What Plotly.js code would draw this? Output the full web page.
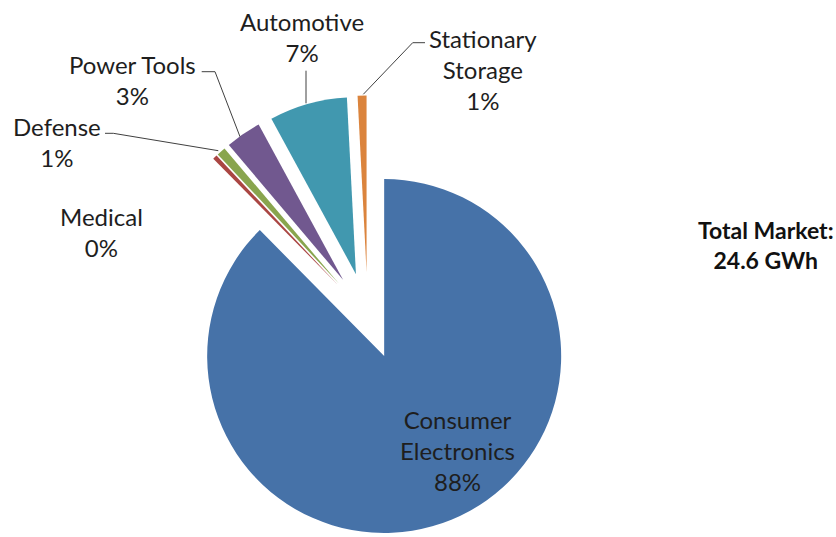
<!DOCTYPE html>
<html>
<head>
<meta charset="utf-8">
<script src="https://cdn.plot.ly/plotly-3.0.1.min.js"></script>
<style>html,body{margin:0;padding:0;background:#fff;overflow:hidden}#chart{width:836px;height:537px}</style>
</head>
<body>
<div id="chart"></div>
<script>
// ---- data ----
var categories = ['Consumer Electronics', 'Medical', 'Defense', 'Power Tools', 'Automotive', 'Stationary Storage'];
var values = [21.55, 0.1, 0.2, 0.8, 1.75, 0.2]; // GWh
var colors = ['#4672A8', '#AA4643', '#89A54E', '#71588F', '#4198AF', '#DB843D'];
var labelLines = ['Consumer<br>Electronics', 'Medical', 'Defense', 'Power Tools', 'Automotive', 'Stationary<br>Storage'];

// ---- layout helpers ----
var W = 836, H = 537;
function px(x) { return x / W; }
function py(y) { return 1 - y / H; }

var total = values.reduce(function (a, b) { return a + b; }, 0);
var pct = values.map(function (v) { return Math.round(v / total * 100) + '%'; });

// pie geometry (pixels)
var pullFrac = 0.245;
var cx = 367.7, cy = 315.9, r = 177;
var half = r * (1 + pullFrac);

var trace = {
  type: 'pie',
  labels: categories,
  values: values,
  sort: false,
  direction: 'clockwise',
  rotation: 0,
  pull: values.map(function () { return pullFrac; }),
  marker: { colors: colors, line: { width: 0 } },
  textinfo: 'none',
  hoverinfo: 'label+percent',
  domain: { x: [px(cx - half), px(cx + half)], y: [py(cy + half), py(cy - half)] }
};

// label positions (pixels, centre of text block)
var labelPos = [
  [457, 451], [101, 232], [57, 142], [132, 80], [302, 37], [483, 69]
];
var font = { family: 'Lato, "Noto Sans", sans-serif', size: 24, color: '#1e1e1e' };
var annotations = categories.map(function (c, i) {
  return {
    xref: 'paper', yref: 'paper',
    x: px(labelPos[i][0]), y: py(labelPos[i][1]),
    xanchor: 'center', yanchor: 'middle',
    text: labelLines[i] + '<br>' + pct[i],
    showarrow: false, align: 'center', font: font
  };
});
annotations.push({
  xref: 'paper', yref: 'paper', x: px(766), y: py(245),
  xanchor: 'center', yanchor: 'middle', showarrow: false, align: 'center',
  text: '<b>Total Market:<br>' + total.toFixed(1) + ' GWh</b>',
  font: { family: 'Lato, "Noto Sans", sans-serif', size: 23, color: '#111' }
});

// leader lines (pixels)
var leaders = [
  [[218.3, 150.7], [113.3, 133.3], [105, 133.3]],
  [[240, 136.7], [215, 71.7], [201.7, 71.7]],
  [[306, 103.3], [306, 70.7]],
  [[363.3, 94.3], [412.7, 42.7], [425, 42.7]]
];
var shapes = leaders.map(function (pts) {
  var d = pts.map(function (p, k) { return (k ? 'L' : 'M') + px(p[0]) + ',' + py(p[1]); }).join(' ');
  return { type: 'path', xref: 'paper', yref: 'paper', path: d, line: { color: '#404040', width: 1 } };
});

var layout = {
  width: W, height: H,
  margin: { l: 0, r: 0, t: 0, b: 0 },
  paper_bgcolor: '#fff', plot_bgcolor: '#fff',
  showlegend: false,
  annotations: annotations,
  shapes: shapes
};

Plotly.newPlot('chart', [trace], layout, { displayModeBar: false, staticPlot: true });
</script>
</body>
</html>
